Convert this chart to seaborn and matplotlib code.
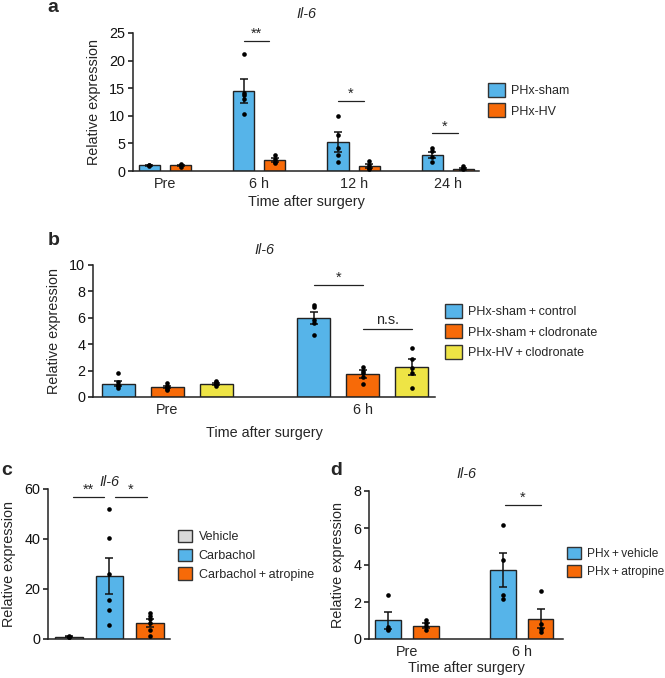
import numpy as np
import pandas as pd
import seaborn as sns
import matplotlib.pyplot as plt
from matplotlib.patches import Patch

# ---- data ----
BLUE = '#56B4E9'
ORANGE = '#F76A08'
YELLOW = '#EEE445'
GREY = '#D9D9D9'

# panel a
a_times = ['Pre', '6 h', '12 h', '24 h']
a_groups = ['PHx-sham', 'PHx-HV']
a_sham_mean = [1.0, 14.5, 5.2, 2.85]
a_sham_sem = [0.08, 2.2, 1.8, 0.55]
a_hv_mean = [1.0, 2.0, 0.85, 0.4]
a_hv_sem = [0.15, 0.35, 0.35, 0.15]
a_sham_pts = [[1.0, 0.95, 1.05], [21.2, 13.8, 13.0, 10.3, 14.2],
              [9.9, 6.5, 4.1, 2.9, 1.7], [4.2, 3.6, 2.5, 1.6]]
a_hv_pts = [[1.3, 1.0, 0.8], [2.9, 2.2, 1.7, 1.4], [1.9, 1.1, 0.6, 0.3],
            [0.9, 0.55, 0.3]]
a_sig = [(1, 23.5, '**'), (2, 12.7, '*'), (3, 6.8, '*')]

# panel b
b_times = ['Pre', '6 h']
b_groups = ['PHx-sham\u2009+\u2009control', 'PHx-sham\u2009+\u2009clodronate',
            'PHx-HV\u2009+\u2009clodronate']
b_ctrl_mean = [1.0, 6.0]
b_ctrl_sem = [0.2, 0.45]
b_clod_mean = [0.75, 1.75]
b_clod_sem = [0.1, 0.3]
b_hv_mean = [1.0, 2.25]
b_hv_sem = [0.07, 0.6]
b_ctrl_pts = [[1.8, 1.15, 0.9, 0.65, 0.8], [7.0, 6.8, 5.8, 5.6, 4.7]]
b_clod_pts = [[1.05, 0.8, 0.6, 0.5, 0.75], [2.3, 2.0, 1.8, 1.5, 1.0]]
b_hv_pts = [[1.2, 1.1, 0.95, 0.8, 1.0], [3.7, 2.9, 2.2, 1.8, 0.7]]

# panel c
c_groups = ['Vehicle', 'Carbachol', 'Carbachol\u2009+\u2009atropine']
c_mean = [1.0, 25.2, 6.5]
c_sem = [0.15, 7.3, 1.5]
c_pts = [[1.2, 1.0, 0.8], [52.0, 40.4, 26.0, 15.6, 11.7, 5.5],
         [10.4, 9.3, 8.0, 6.4, 3.7, 1.1]]

# panel d
d_times = ['Pre', '6 h']
d_groups = ['PHx\u2009+\u2009vehicle', 'PHx\u2009+\u2009atropine']
d_veh_mean = [1.01, 3.73]
d_veh_sem = [0.46, 0.93]
d_atr_mean = [0.72, 1.1]
d_atr_sem = [0.12, 0.5]
d_veh_pts = [[2.4, 0.65, 0.52, 0.47], [6.15, 4.26, 2.36, 2.17]]
d_atr_pts = [[1.05, 0.88, 0.69, 0.47], [2.62, 0.83, 0.56, 0.38]]

sns.set_theme(style='ticks')
plt.rcParams['font.family'] = ['Liberation Sans', 'DejaVu Sans']
plt.rcParams['axes.linewidth'] = 1.1
FS = 10.4


def bar_positions(n_cat, n_hue, width):
    # same dodge rule seaborn uses
    w = width / n_hue
    return [[c + w * h + w / 2 - width / 2 for c in range(n_cat)]
            for h in range(n_hue)]


def grouped_panel(ax, cats, groups, means, sems, pts, colors, width, gap):
    rows = []
    for g, m in zip(groups, means):
        for c, v in zip(cats, m):
            rows.append({'x': c, 'group': g, 'mean': v})
    df = pd.DataFrame(rows)
    sns.barplot(data=df, x='x', y='mean', hue='group', hue_order=groups,
                order=cats, palette=colors, width=width, gap=gap,
                saturation=1, edgecolor='#222222', linewidth=1.0,
                errorbar=None, legend=False, ax=ax)
    pos = bar_positions(len(cats), len(groups), width)
    for h in range(len(groups)):
        ax.errorbar(pos[h], means[h], yerr=sems[h], fmt='none',
                    ecolor='#111111', elinewidth=1.1, capsize=2.6,
                    capthick=1.1, zorder=4)
        xs, ys = [], []
        for c in range(len(cats)):
            xs += [pos[h][c]] * len(pts[h][c])
            ys += pts[h][c]
        sns.scatterplot(x=xs, y=ys, color='black', s=11, linewidth=0,
                        zorder=5, legend=False, ax=ax)
    return pos


def style_axes(ax, ylim, yticks):
    ax.set_ylim(*ylim)
    ax.set_yticks(yticks)
    sns.despine(ax=ax)
    ax.tick_params(axis='y', direction='out', length=3.5, width=1.1,
                   labelsize=FS, pad=2, colors='#111111')
    ax.tick_params(axis='x', length=0, labelsize=FS, pad=4)
    ax.set_ylabel('Relative expression', fontsize=FS, labelpad=6)
    for s in ax.spines.values():
        s.set_color('#222222')


def sig(ax, x1, x2, y, label, fs=10.5, dy=0.0):
    ax.plot([x1, x2], [y, y], color='#222222', lw=0.9)
    ax.text((x1 + x2) / 2, y + dy, label, ha='center', va='bottom',
            fontsize=fs)


def add_legend(ax, fig, labels, colors, anchor, hh=1.35, sp=0.5, fs=9):
    handles = [Patch(facecolor=c, edgecolor='#333333', linewidth=1.0, label=l)
               for l, c in zip(labels, colors)]
    ax.legend(handles=handles, loc='upper left', bbox_to_anchor=anchor,
              bbox_transform=fig.transFigure, frameon=False, borderpad=0,
              borderaxespad=0, handlelength=hh, handleheight=hh,
              handletextpad=0.5, labelspacing=sp, fontsize=fs)


fig = plt.figure(figsize=(6.65, 6.78), dpi=100)
W, H = 665.0, 678.0


def axes_px(left, top, right, bottom):
    return fig.add_axes([left / W, 1 - bottom / H, (right - left) / W,
                         (bottom - top) / H])


# ---- a ----
ax = axes_px(133, 33, 479, 171)
pos = grouped_panel(ax, a_times, a_groups, [a_sham_mean, a_hv_mean],
                    [a_sham_sem, a_hv_sem], [a_sham_pts, a_hv_pts],
                    [BLUE, ORANGE], 0.66, 0.32)
style_axes(ax, (0, 25), [0, 5, 10, 15, 20, 25])
ax.set_xlim(-0.34, 3.33)
ax.set_xlabel('Time after surgery', fontsize=FS, labelpad=3)
ax.set_title('Il-6', fontsize=FS, style='italic', pad=11)
for g, y, lab in a_sig:
    sig(ax, pos[0][g], pos[1][g] - 0.06, y, lab)
add_legend(ax, fig, a_groups, [BLUE, ORANGE], (488 / W, 1 - 83 / H))

# ---- b ----
ax = axes_px(93, 265, 435, 397)
pos = grouped_panel(ax, b_times, b_groups, [b_ctrl_mean, b_clod_mean, b_hv_mean],
                    [b_ctrl_sem, b_clod_sem, b_hv_sem],
                    [b_ctrl_pts, b_clod_pts, b_hv_pts],
                    [BLUE, ORANGE, YELLOW], 0.75, 0.32)
style_axes(ax, (0, 10), [0, 2, 4, 6, 8, 10])
ax.set_xlim(-0.38, 1.37)
ax.set_xlabel('Time after surgery', fontsize=FS, labelpad=7)
ax.set_title('Il-6', fontsize=FS, style='italic', pad=8)
sig(ax, pos[0][1], pos[1][1], 8.5, '*')
sig(ax, pos[1][1], pos[2][1], 5.15, 'n.s.', fs=FS, dy=0.15)
add_legend(ax, fig, b_groups, [BLUE, ORANGE, YELLOW], (445 / W, 1 - 304 / H))

# ---- c ----
ax = axes_px(48, 489, 170, 639)
df_c = pd.DataFrame({'group': c_groups, 'mean': c_mean})
sns.barplot(data=df_c, x='group', y='mean', hue='group', order=c_groups,
            palette=[GREY, BLUE, ORANGE], width=0.68, saturation=1,
            edgecolor='#222222', linewidth=1.0, errorbar=None, legend=False,
            ax=ax)
xc = np.arange(len(c_groups))
ax.errorbar(xc, c_mean, yerr=c_sem, fmt='none', ecolor='#111111',
            elinewidth=1.1, capsize=2.6, capthick=1.1, zorder=4)
xs, ys = [], []
for i, p in enumerate(c_pts):
    xs += [xc[i]] * len(p)
    ys += p
sns.scatterplot(x=xs, y=ys, color='black', s=11, linewidth=0, zorder=5,
                legend=False, ax=ax)
style_axes(ax, (0, 60), [0, 20, 40, 60])
ax.set_xlim(-0.52, 2.5)
ax.set_xticks([])
ax.set_xlabel('')
ax.set_title('Il-6', fontsize=FS, style='italic', pad=1.5)
sig(ax, xc[0] + 0.1, xc[1] - 0.13, 56.8, '**')
sig(ax, xc[1] + 0.13, xc[2] - 0.08, 56.8, '*')
add_legend(ax, fig, c_groups, [GREY, BLUE, ORANGE], (178 / W, 1 - 530 / H),
           hh=1.15, sp=0.42)

# ---- d ----
ax = axes_px(369, 491, 563, 639)
pos = grouped_panel(ax, d_times, d_groups, [d_veh_mean, d_atr_mean],
                    [d_veh_sem, d_atr_sem], [d_veh_pts, d_atr_pts],
                    [BLUE, ORANGE], 0.66, 0.32)
style_axes(ax, (0, 8), [0, 2, 4, 6, 8])
ax.set_xlim(-0.33, 1.36)
ax.set_xlabel('Time after surgery', fontsize=FS, labelpad=2)
ax.set_title('Il-6', fontsize=FS, style='italic', pad=9)
sig(ax, pos[0][1] + 0.02, pos[1][1], 7.24, '*')
add_legend(ax, fig, d_groups, [BLUE, ORANGE], (567 / W, 1 - 547 / H),
           hh=1.15, sp=0.42, fs=8.6)

# panel letters
for lab, x, y in [('a', 47, 12), ('b', 48, 245), ('c', 1, 475), ('d', 330, 475)]:
    fig.text(x / W, 1 - y / H, lab, fontsize=14, fontweight='bold',
             ha='left', va='baseline')

fig.savefig('out.png', dpi=100)
